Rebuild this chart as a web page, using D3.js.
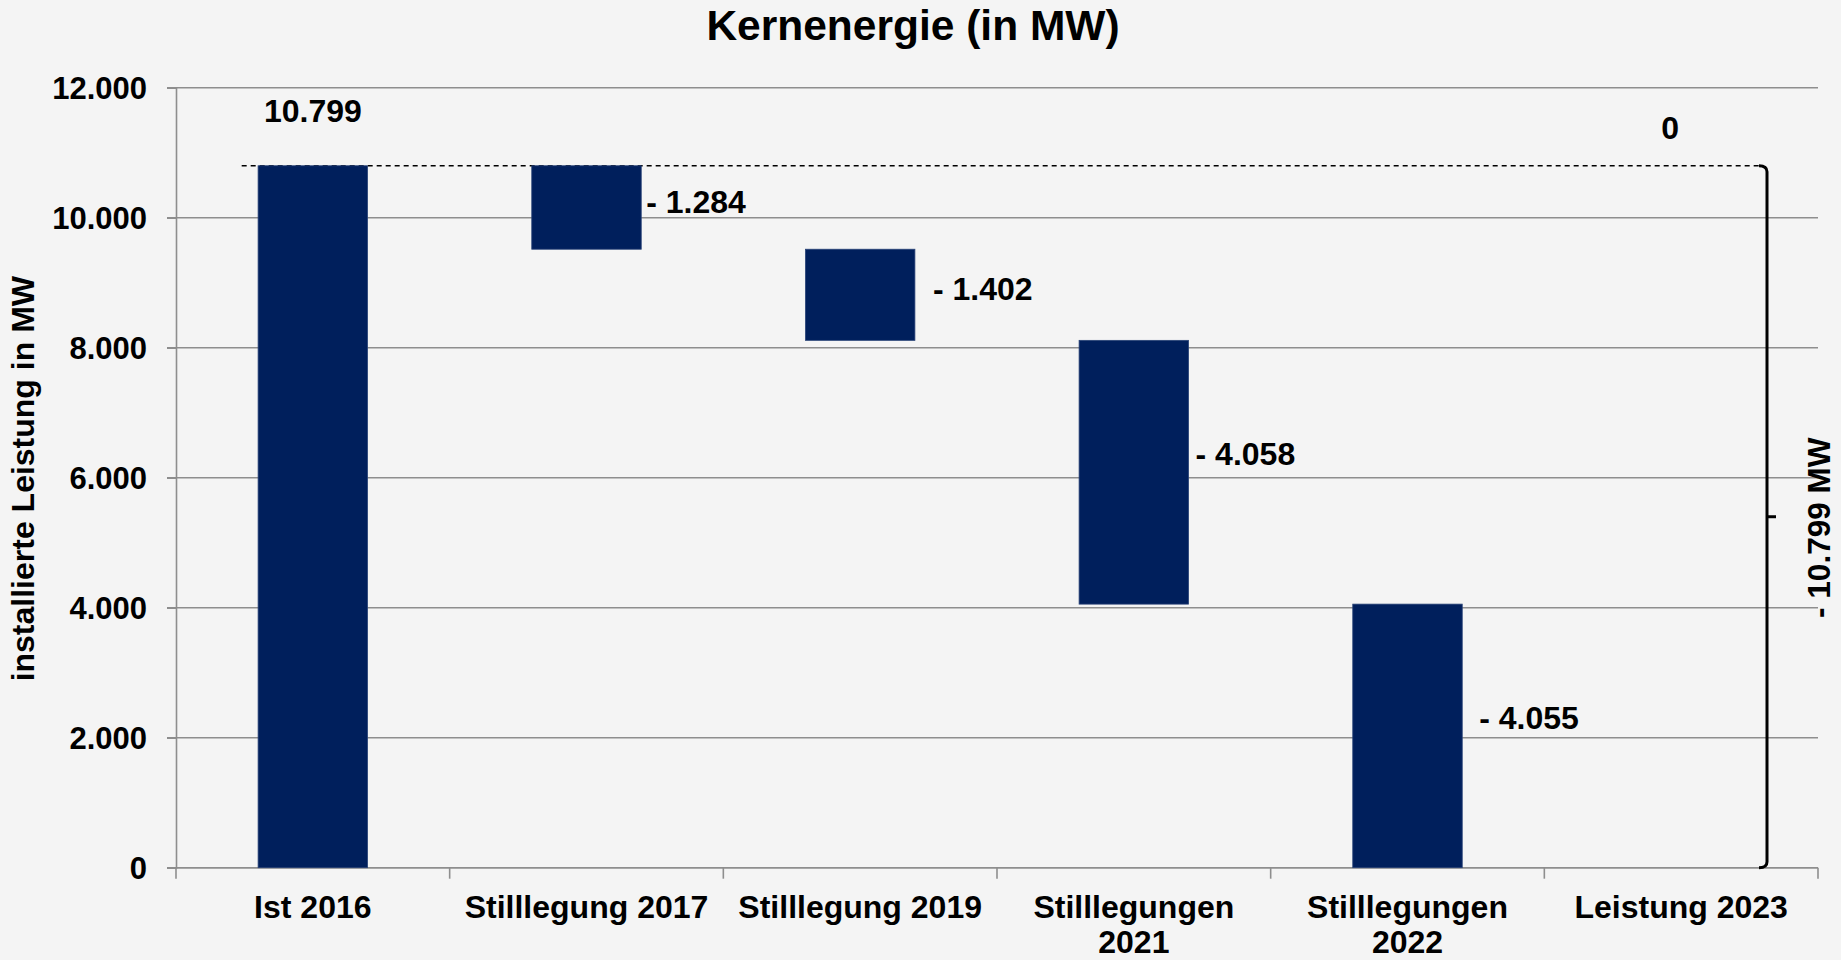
<!DOCTYPE html>
<html lang="de">
<head>
  <meta charset="UTF-8">
  <title>Kernenergie (in MW)</title>
  <script src="https://d3js.org/d3.v7.min.js"></script>
  <style>
    html, body { margin: 0; padding: 0; background: #f4f4f4; }
    svg { display: block; background-color: #f4f4f4; }
    text { font-family: "Liberation Sans", Arial, sans-serif; font-weight: bold; fill: #000; }
  </style>
</head>
<body>
  <svg width="1841" height="960"></svg>
  <script>
// data
const categories = [["Ist 2016"], ["Stilllegung 2017"], ["Stilllegung 2019"], ["Stilllegungen", "2021"], ["Stilllegungen", "2022"], ["Leistung 2023"]];
const startValue = 10799;
const changes = [-1284, -1402, -4058, -4055];
const endValue = 0;
const yTicks = [0, 2000, 4000, 6000, 8000, 10000, 12000];
const title = "Kernenergie (in MW)";
const yTitle = "installierte Leistung in MW";
const totalLabel = "- 10.799 MW";

const fmt = v => d3.format(",")(Math.abs(v)).replace(/,/g, ".");

const svg = d3.select("svg");
const plotLeft = 176, plotRight = 1818, plotTop = 87.7, plotBottom = 867.7;
// labels were nudged by hand in the original, gap to bar edge in px
const labelGap = [5, 18, 7, 17];

const x = d3.scaleBand()
  .domain(categories.map((c, i) => i))
  .range([plotLeft, plotRight]);

const y = d3.scaleLinear()
  .domain([0, 12000])
  .range([plotBottom, plotTop]);

// build waterfall steps
let running = startValue;
const bars = [{ i: 0, y0: 0, y1: startValue, label: fmt(startValue), kind: "start", gap: 0 }];
changes.forEach((c, k) => {
  const next = running + c;
  bars.push({ i: k + 1, y0: next, y1: running, label: "- " + fmt(c), kind: "step", gap: labelGap[k] });
  running = next;
});

// grid lines
svg.append("g")
  .selectAll("line")
  .data(yTicks)
  .join("line")
  .attr("x1", plotLeft - 9)
  .attr("x2", plotRight)
  .attr("y1", d => y(d))
  .attr("y2", d => y(d))
  .attr("stroke", "#8e8e8e")
  .attr("stroke-width", 1.6);

// y axis
const yAxis = svg.append("g")
  .attr("transform", `translate(${plotLeft},0)`)
  .call(d3.axisLeft(y).tickValues(yTicks).tickSize(9).tickPadding(20).tickFormat(fmt));
yAxis.select(".domain").attr("stroke", "#8e8e8e").attr("stroke-width", 1.6);
yAxis.selectAll(".tick line").attr("stroke", "#8e8e8e").attr("stroke-width", 1.6);
yAxis.selectAll(".tick text")
  .attr("font-size", 31)
  .attr("font-family", "'Liberation Sans', Arial, sans-serif")
  .attr("font-weight", "bold")
  .attr("fill", "#000")
  .attr("dy", "0.36em");

// x axis line + ticks at band boundaries
svg.append("line")
  .attr("x1", plotLeft).attr("x2", plotRight)
  .attr("y1", plotBottom).attr("y2", plotBottom)
  .attr("stroke", "#8e8e8e").attr("stroke-width", 1.6);
svg.append("g")
  .selectAll("line")
  .data(d3.range(categories.length + 1))
  .join("line")
  .attr("x1", d => plotLeft + d * x.step())
  .attr("x2", d => plotLeft + d * x.step())
  .attr("y1", plotBottom)
  .attr("y2", plotBottom + 11)
  .attr("stroke", "#8e8e8e")
  .attr("stroke-width", 1.6);

// category labels
const catText = svg.append("g")
  .selectAll("text")
  .data(categories)
  .join("text")
  .attr("text-anchor", "middle")
  .attr("font-size", 32)
  .attr("x", (d, i) => x(i) + x.bandwidth() / 2)
  .attr("y", 918);
catText.selectAll("tspan")
  .data(d => d)
  .join("tspan")
  .attr("x", function() { return d3.select(this.parentNode).attr("x"); })
  .attr("dy", (d, j) => j === 0 ? 0 : 35)
  .text(d => d);

// dashed reference line
const bx = 1767;
svg.append("line")
  .attr("x1", x(0) + x.bandwidth() * 0.24)
  .attr("x2", bx - 6)
  .attr("y1", y(startValue))
  .attr("y2", y(startValue))
  .attr("stroke", "#000")
  .attr("stroke-width", 1.5)
  .attr("stroke-dasharray", "5,4");

// bars
const barW = x.bandwidth() * 0.4;
svg.append("g")
  .selectAll("rect")
  .data(bars)
  .join("rect")
  .attr("x", d => x(d.i) + (x.bandwidth() - barW) / 2)
  .attr("width", barW)
  .attr("y", d => y(d.y1))
  .attr("height", d => y(d.y0) - y(d.y1))
  .attr("fill", "#001f5c")
  .attr("stroke", "#2a4478")
  .attr("stroke-width", 0.8);

// value labels
svg.append("g")
  .selectAll("text")
  .data(bars)
  .join("text")
  .attr("font-size", 32)
  .attr("text-anchor", d => d.kind === "start" ? "middle" : "start")
  .attr("x", d => d.kind === "start" ? x(d.i) + x.bandwidth() / 2 : x(d.i) + (x.bandwidth() + barW) / 2 + d.gap)
  .attr("y", d => d.kind === "start"
    ? y(d.y1) - 44
    : y(d.y1) + 0.43 * (y(d.y0) - y(d.y1)))
  .attr("dy", d => d.kind === "start" ? 0 : "0.36em")
  .text(d => d.label);

// end label
const last = categories.length - 1;
svg.append("text")
  .attr("font-size", 32)
  .attr("text-anchor", "middle")
  .attr("x", x(last) + x.bandwidth() / 2 - 11)
  .attr("y", y(startValue) - 27)
  .text(fmt(endValue));

// bracket on the right
const yt = y(startValue), yb = y(endValue), ym = (yt + yb) / 2;
svg.append("path")
  .attr("d", `M${bx - 8},${yt} Q${bx},${yt} ${bx},${yt + 6} L${bx},${yb - 6} Q${bx},${yb} ${bx - 8},${yb}`)
  .attr("fill", "none")
  .attr("stroke", "#000")
  .attr("stroke-width", 3);
svg.append("line")
  .attr("x1", bx).attr("x2", bx + 9)
  .attr("y1", ym).attr("y2", ym)
  .attr("stroke", "#000")
  .attr("stroke-width", 3);
svg.append("text")
  .attr("font-size", 31.5)
  .attr("text-anchor", "middle")
  .attr("transform", `translate(1830,${ym + 11}) rotate(-90)`)
  .text(totalLabel);

// titles
svg.append("text")
  .attr("font-size", 42.5)
  .attr("text-anchor", "middle")
  .attr("x", 913)
  .attr("y", 40)
  .text(title);

svg.append("text")
  .attr("font-size", 32)
  .attr("text-anchor", "middle")
  .attr("transform", `translate(34,${(plotTop + plotBottom) / 2 + 1}) rotate(-90)`)
  .text(yTitle);
  </script>
</body>
</html>
